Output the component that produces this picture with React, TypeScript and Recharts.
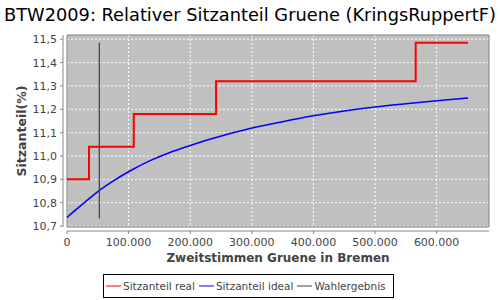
import React from 'react';
import {
  LineChart, Line, XAxis, YAxis, CartesianGrid, Legend, Label, ReferenceArea,
} from 'recharts';

const realX = [0, 35700, 108400, 242000, 566000, 651000];
const realY = [10.9, 11.04, 11.18, 11.32, 11.485, 11.485];

const idealX = [0, 17000, 35000, 52500, 76000, 105000, 135000, 167000, 200000, 232000, 297000, 350000, 400000, 450000, 500000, 550000, 600000, 651000];
const idealY = [10.737, 10.776, 10.815, 10.853, 10.895, 10.94, 10.98, 11.015, 11.045, 11.072, 11.118, 11.147, 11.172, 11.193, 11.21, 11.224, 11.237, 11.248];

const voteX = [52500, 52500];
const voteY = [10.732, 11.485];

const xTicks = [0, 100000, 200000, 300000, 400000, 500000, 600000];
const yTicks = [10.7, 10.8, 10.9, 11.0, 11.1, 11.2, 11.3, 11.4, 11.5];

const title = 'BTW2009: Relativer Sitzanteil Gruene (KringsRuppertF)';
const xLabel = 'Zweitstimmen Gruene in Bremen';
const yLabel = 'Sitzanteil(%)';
const seriesNames = ['Sitzanteil real', 'Sitzanteil ideal', 'Wahlergebnis'];
const seriesColors = ['#ff0000', '#0000ff', '#404040'];

const zip = (xs: number[], ys: number[]) => xs.map((x, i) => ({ x, y: ys[i] }));
const realData = zip(realX, realY);
const idealData = zip(idealX, idealY);
const voteData = zip(voteX, voteY);

const FONT = '"DejaVu Sans", sans-serif';

const fmtX = (v: number) => (v === 0 ? '0' : v.toLocaleString('de-DE'));
const fmtY = (v: number) => v.toFixed(1).replace('.', ',');

const XTick = (props: any) => {
  const { x, y, payload } = props;
  return (
    <g>
      <line x1={x} x2={x} y1={y + 4} y2={y + 7} stroke="#888" />
      <text x={x} y={y + 19} textAnchor="middle" fontSize={11} fill="#444" fontFamily={FONT}>
        {fmtX(payload.value)}
      </text>
    </g>
  );
};

const YTick = (props: any) => {
  const { x, y, payload } = props;
  return (
    <g>
      <line x1={x - 7} x2={x - 4} y1={y} y2={y} stroke="#888" />
      <text x={x - 10} y={y + 4} textAnchor="end" fontSize={11} fill="#444" fontFamily={FONT}>
        {fmtY(payload.value)}
      </text>
    </g>
  );
};

const LegendBox = () => (
  <div
    style={{
      display: 'flex', alignItems: 'center', border: '1px solid #000', height: 22, width: 287,
      paddingLeft: 2, fontFamily: FONT, fontSize: 10.5, color: '#444', boxSizing: 'content-box',
      background: '#fff',
    }}
  >
    {seriesNames.map((n, i) => (
      <div key={n} style={{ display: 'flex', alignItems: 'center', marginRight: i < 2 ? 4 : 0 }}>
        <svg width={15} height={10} style={{ marginRight: 2 }}>
          <line x1={0} x2={15} y1={5} y2={5} stroke={seriesColors[i]} strokeWidth={1} />
        </svg>
        <span style={{ whiteSpace: 'nowrap' }}>{n}</span>
      </div>
    ))}
  </div>
);

export default function App() {
  return (
    <div style={{ width: 500, height: 300, position: 'absolute', left: 0, top: 0, background: '#fff', overflow: 'hidden' }}>
      <div style={{ position: 'absolute', left: 0, top: 0 }}>
        <LineChart
          width={500}
          height={300}
          margin={{ top: 35, right: 11, left: 0, bottom: 3 }}
        >
          <CartesianGrid
            fill="#c0c0c0"
            stroke="#ffffff"
            strokeDasharray="2 2"
            horizontalValues={yTicks}
            verticalValues={xTicks}
          />
          <ReferenceArea x1={0} x2={685000} y1={10.696} y2={11.518} fill="none" stroke="#808080" strokeWidth={1} ifOverflow="visible" />
          <XAxis
            dataKey="x"
            type="number"
            domain={[0, 685000]}
            ticks={xTicks}
            allowDataOverflow
            height={46}
            axisLine={{ stroke: '#888', transform: 'translate(0,4)' }}
            tickLine={false}
            tickSize={0}
            tickMargin={0}
            tick={<XTick />}
          >
            <Label value={xLabel} position="insideBottom" offset={11} fontSize={12} fontWeight="bold" fill="#444" fontFamily={FONT} />
          </XAxis>
          <YAxis
            dataKey="y"
            type="number"
            domain={[10.696, 11.518]}
            ticks={yTicks}
            allowDataOverflow
            width={67}
            axisLine={{ stroke: '#888', transform: 'translate(-4,0)' }}
            tickLine={false}
            tickSize={0}
            tickMargin={0}
            tick={<YTick />}
          >
            <Label value={yLabel} angle={-90} position="insideLeft" offset={22} fontSize={12.5} fontWeight="bold" fill="#444" fontFamily={FONT} style={{ textAnchor: 'middle' }} />
          </YAxis>
          <Legend verticalAlign="bottom" content={<LegendBox />} wrapperStyle={{ bottom: 2, left: 103, width: 291, height: 24 }} />
          <Line data={realData} dataKey="y" name={seriesNames[0]} type="stepAfter" stroke={seriesColors[0]} strokeWidth={2} dot={false} isAnimationActive={false} />
          <Line data={idealData} dataKey="y" name={seriesNames[1]} type="monotone" stroke={seriesColors[1]} strokeWidth={1.5} dot={false} isAnimationActive={false} />
          <Line data={voteData} dataKey="y" name={seriesNames[2]} type="linear" stroke={seriesColors[2]} strokeWidth={1.2} dot={false} isAnimationActive={false} />
        </LineChart>
      </div>
      <div
        style={{
          position: 'absolute', left: 0, top: 5, width: 500, textAlign: 'center', whiteSpace: 'nowrap',
          fontFamily: FONT, fontSize: 17.8, lineHeight: '20px', color: '#000',
        }}
      >
        {title}
      </div>
    </div>
  );
}
